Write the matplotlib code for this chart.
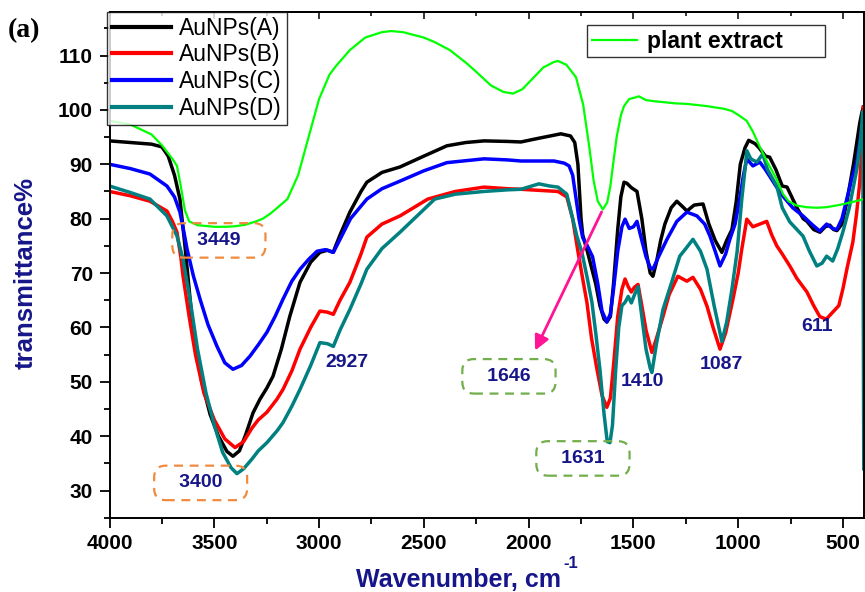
import matplotlib
matplotlib.use("Agg")
import matplotlib.pyplot as plt
from matplotlib.ticker import MultipleLocator

plt.rcParams['font.family'] = ['Liberation Sans', 'DejaVu Sans']

# ---- data ----
wn_a = [4000, 3900, 3800, 3750, 3720, 3690, 3664, 3640, 3620, 3600, 3560, 3520, 3480, 3440, 3411,
        3380, 3350, 3315, 3282, 3250, 3220, 3180, 3140, 3091, 3040, 2996, 2960, 2933, 2900, 2853,
        2800, 2772, 2700, 2614, 2500, 2390, 2300, 2213, 2100, 2037, 1950, 1846, 1800, 1780, 1765,
        1750, 1742, 1720, 1700, 1680, 1660, 1640, 1627, 1610, 1595, 1575, 1560, 1545, 1531, 1510,
        1483, 1460, 1440, 1420, 1407, 1390, 1370, 1350, 1320, 1293, 1260, 1245, 1210, 1168, 1140,
        1110, 1078, 1055, 1030, 1010, 990, 968, 950, 920, 900, 870, 850, 820, 790, 767, 720, 690,
        672, 640, 610, 585, 563, 545, 529, 505, 482, 450, 420, 410, 403]
tr_a = [94.3, 94.0, 93.7, 93.2, 91.5, 88, 83.6, 75, 67, 59, 50, 44, 40, 37.2, 36.3,
        37.3, 40.3, 44.3, 46.8, 48.8, 51, 56, 62, 68.3, 72, 73.8, 74.2, 73.8, 77, 81.2,
        85, 86.7, 88.5, 89.5, 91.5, 93.4, 94, 94.3, 94.2, 94.1, 94.8, 95.6, 95.2, 94, 90,
        80, 77, 74, 71, 68, 64, 61.5, 61, 62, 68, 78, 84, 86.7, 86.5, 85.7,
        85, 80, 74, 70, 69.4, 72, 76, 79, 82, 83.2, 82, 81.4, 82.5, 82.7, 79,
        76, 73.8, 76, 78, 83, 90, 93, 94.4, 93.8, 93, 91.5, 91.3, 89, 86, 85.8, 82, 80,
        79.5, 78, 77.5, 78.5, 78.8, 78, 77.8, 79, 83, 90, 97.6, 99.5, 100.5]

wn_b = [4000, 3900, 3807, 3726, 3700, 3678, 3660, 3649, 3620, 3590, 3550, 3500, 3450, 3401, 3360,
        3320, 3290, 3249, 3201, 3172, 3130, 3091, 3040, 2996, 2960, 2932, 2900, 2853, 2800, 2772,
        2700, 2614, 2481, 2350, 2213, 2100, 2037, 1950, 1860, 1818, 1790, 1765, 1742, 1722, 1700,
        1674, 1650, 1627, 1610, 1595, 1575, 1555, 1540, 1525, 1510, 1495, 1478, 1460, 1440, 1412,
        1390, 1359, 1330, 1288, 1245, 1216, 1180, 1149, 1120, 1087, 1060, 1025, 1000, 983, 959,
        930, 897, 864, 840, 816, 790, 754, 720, 672, 640, 611, 580, 549, 520, 501, 480, 453,
        435, 420, 410, 403]
tr_b = [85, 84.2, 83.2, 81.4, 79.5, 77.5, 73, 69.4, 62, 55, 48, 43, 39.5, 37.9, 39,
        41.5, 43, 44.4, 46.8, 48.6, 52, 56, 60, 63, 62.8, 62.4, 65, 68.3, 73.5, 76.6,
        79, 80.5, 83.6, 85, 85.8, 85.5, 85.4, 85.2, 85, 84, 80, 74, 68.9, 64.6, 58,
        52.3, 47.5, 45.3, 47, 53, 62, 67, 68.9, 67.5, 66.5, 67.4, 67.9, 64, 59.5, 55.4,
        58, 62, 66, 69.4, 68.5, 69.2, 67, 63.9, 60, 56, 59, 65.2, 70, 74.4, 79.9,
        78.5, 79, 79.5, 77, 75, 73.5, 71.3, 69, 66.5, 64, 62, 61.5, 62.8, 64, 67, 71, 75.7,
        81, 86.7, 93, 100.5]

wn_c = [4000, 3900, 3807, 3726, 3690, 3664, 3640, 3630, 3600, 3568, 3530, 3487, 3450, 3411, 3370,
        3330, 3290, 3249, 3210, 3172, 3130, 3091, 3050, 3010, 2970, 2932, 2900, 2850, 2772, 2700,
        2614, 2500, 2390, 2213, 2100, 2037, 1950, 1879, 1830, 1807, 1790, 1775, 1760, 1742, 1720,
        1695, 1670, 1650, 1627, 1610, 1595, 1575, 1555, 1540, 1520, 1500, 1483, 1460, 1440, 1420,
        1407, 1380, 1340, 1293, 1245, 1197, 1160, 1135, 1110, 1087, 1060, 1040, 1015, 993, 975,
        959, 930, 897, 870, 850, 820, 786, 740, 691, 650, 611, 578, 550, 529, 505, 482, 460,
        434, 420, 405]
tr_c = [90, 89.2, 88.2, 86, 84, 81.2, 76.5, 74.4, 69.5, 65.2, 60.5, 56.5, 53.5, 52.3, 53,
        54.7, 56.8, 59.1, 62, 65.2, 68.5, 70.7, 72.5, 74, 74.3, 73.8, 76.2, 80, 83.6, 85.5,
        86.9, 88.8, 90.3, 91, 90.8, 90.6, 90.6, 90.6, 90.2, 89.7, 88, 84, 80, 76.5, 75,
        73, 68, 63, 61, 62.5, 67, 74, 78.5, 79.9, 78.2, 78.5, 79.5, 76, 73, 71,
        70.7, 73, 76.2, 79.5, 81.2, 80.5, 79, 76.8, 74, 71.3, 73.5, 76.2, 79, 83.6, 88,
        91, 89.7, 90.4, 89, 87.8, 86, 84.1, 82, 80.5, 79, 77.7, 79, 78.2, 78, 80, 83.6, 87,
        90.4, 94, 98]

wn_d = [4000, 3900, 3807, 3726, 3678, 3649, 3616, 3580, 3540, 3500, 3460, 3420, 3392, 3360, 3320,
        3290, 3249, 3200, 3172, 3130, 3091, 3040, 2996, 2960, 2932, 2900, 2853, 2800, 2772, 2700,
        2614, 2448, 2350, 2213, 2100, 2037, 1951, 1900, 1860, 1818, 1790, 1770, 1746, 1720, 1698,
        1680, 1660, 1640, 1625, 1612, 1600, 1585, 1570, 1555, 1540, 1525, 1510, 1495, 1478, 1460,
        1440, 1420, 1412, 1390, 1359, 1320, 1279, 1250, 1216, 1180, 1149, 1115, 1078, 1055, 1030,
        1005, 983, 965, 959, 940, 911, 883, 860, 816, 790, 754, 720, 691, 660, 625, 600, 578,
        549, 525, 501, 470, 434, 415, 406, 401]
tr_d = [86, 84.8, 83.6, 80.5, 76.8, 72.5, 65.2, 56, 48, 42, 37, 34.2, 33.1, 34, 35.8,
        37.3, 38.8, 41, 42.5, 45.5, 48.6, 53, 57.2, 57, 56.5, 59.5, 63.3, 68, 70.7, 74.5,
        77.5, 83.6, 84.5, 85, 85.3, 85.4, 86.4, 86, 85.8, 84.5, 80, 76.8, 73.8, 69, 64.6,
        59, 52.3, 44, 39, 38.8, 42, 52, 60, 64, 64.6, 65.7, 64.5, 66, 67.5, 62,
        56, 52.5, 51.7, 57, 63.3, 68, 73.1, 74.5, 76.2, 74, 70.7, 64, 57.4, 61, 67,
        74, 83.6, 90, 92.5, 91, 90.4, 91.9, 89, 86, 82, 79.4, 78, 76.8, 74, 71.3, 71.8, 73.1,
        72.2, 74.5, 77.5, 82, 89.1, 95, 99.6, 34]

wn_plant = [4000, 3900, 3800, 3750, 3700, 3678, 3660, 3640, 3620, 3580, 3500, 3449, 3400, 3350, 3300,
            3268, 3230, 3190, 3151, 3100, 3050, 3000, 2950, 2921, 2853, 2780, 2700, 2657, 2600, 2500,
            2450, 2376, 2300, 2250, 2180, 2120, 2075, 2030, 1980, 1930, 1880, 1860, 1820, 1774, 1740,
            1710, 1690, 1670, 1646, 1625, 1610, 1598, 1580, 1560, 1545, 1520, 1490, 1474, 1440, 1402,
            1350, 1300, 1244, 1150, 1068, 1030, 997, 960, 930, 897, 860, 820, 786, 760, 720, 672,
            625, 580, 520, 460, 400]
tr_plant = [98, 97.3, 95.5, 93.5, 91, 89.7, 86, 81.5, 79.5, 78.8, 78.5, 78.5, 78.6, 78.9, 79.5,
            80, 81, 82.3, 83.6, 88, 95, 102, 106.5, 108, 111, 113.3, 114.3, 114.5, 114.3, 113.3,
            112.5, 111, 108.7, 107, 104.5, 103.3, 103, 103.8, 105.8, 107.8, 108.8, 109, 108.3, 106, 101,
            93, 87, 83.2, 81.7, 83, 86, 89.7, 95, 99, 100.7, 102, 102.3, 102.5, 101.8, 101.6,
            101.4, 101.2, 101.1, 100.7, 100.2, 99.8, 99, 98, 96, 93.2, 90.3, 87.5, 84.5, 83.2, 82.4, 82.1,
            82, 82.1, 82.5, 83, 83.6]

# peak labels: (text, wavenumber, transmittance, box colour or None)
peak_labels = [
    ('3449', 3478, 76.0, '#F08A3E'),
    ('3400', 3565, 31.4, '#F08A3E'),
    ('1646', 2094, 51.0, '#72AE4A'),
    ('1631', 1741, 35.9, '#72AE4A'),
    ('2927', 2867, 53.6, None),
    ('1410', 1458, 50.0, None),
    ('1087', 1078, 53.2, None),
    ('611', 625, 60.2, None),
]

navy = '#16168A'

fig = plt.figure(figsize=(8.65, 5.92), dpi=100)
ax = fig.add_axes([0.1266, 0.1255, 0.8722, 0.8542])

la, = ax.plot(wn_a, tr_a, color='black', lw=2.5, label='AuNPs(A)')
lb, = ax.plot(wn_b, tr_b, color='#FF0000', lw=2.5, label='AuNPs(B)')
lc, = ax.plot(wn_c, tr_c, color='#0000FF', lw=2.5, label='AuNPs(C)')
ld, = ax.plot(wn_d, tr_d, color='#008080', lw=2.5, label='AuNPs(D)')
lp, = ax.plot(wn_plant, tr_plant, color='#00FF00', lw=1.6, label='plant extract' + ' ' * 6)

ax.set_xlim(4000, 400)
ax.set_ylim(25, 118)
ax.xaxis.set_major_locator(MultipleLocator(500))
ax.xaxis.set_minor_locator(MultipleLocator(250))
ax.yaxis.set_major_locator(MultipleLocator(10))
ax.yaxis.set_minor_locator(MultipleLocator(5))
ax.set_yticks(range(30, 111, 10))
ax.tick_params(which='major', direction='out', length=7, width=1.3, labelsize=15, pad=5)
ax.tick_params(which='minor', direction='out', length=4, width=1.3)
for lab in ax.get_xticklabels() + ax.get_yticklabels():
    lab.set_fontweight('bold')
for sp in ax.spines.values():
    sp.set_linewidth(1.4)

# small inward ticks along the top frame
top = ax.secondary_xaxis('top')
top.xaxis.set_major_locator(MultipleLocator(500))
top.xaxis.set_minor_locator(MultipleLocator(250))
top.tick_params(which='major', direction='in', length=5, width=1.1, labeltop=False)
top.tick_params(which='minor', direction='in', length=3, width=1.1)
top.spines['top'].set_linewidth(1.4)

# arrow from plant extract dip to the 1646 box
ax.annotate('', xy=(1975, 55.3), xytext=(1646, 81.7),
            arrowprops=dict(arrowstyle='-|>', color='#FF1493', lw=2, mutation_scale=22))

for txt, x, y, col in peak_labels:
    if col is None:
        ax.text(x, y, txt, color=navy, fontsize=14, fontweight='bold', ha='center', va='center')
    else:
        ax.text(x, y, '   ' + txt + '   ', color=navy, fontsize=14, fontweight='bold',
                ha='center', va='center',
                bbox=dict(boxstyle='round,pad=0.45,rounding_size=0.6', fc='none', ec=col,
                          ls=(0, (4, 3)), lw=1.6))

leg1 = ax.legend(handles=[la, lb, lc, ld], loc='upper left', bbox_to_anchor=(-0.003, 1.0),
                 fontsize=16.5, frameon=True, fancybox=False, edgecolor='black',
                 handlelength=2.6, handletextpad=0.35, labelspacing=0.17, borderpad=0.2,
                 borderaxespad=0)
leg1.get_frame().set_linewidth(1.0)
for h in leg1.get_lines():
    h.set_linewidth(3)
ax.add_artist(leg1)

leg2 = ax.legend(handles=[lp], loc='upper left', bbox_to_anchor=(0.633, 0.974),
                 prop={'size': 16.5, 'weight': 'bold'}, frameon=True, fancybox=False,
                 edgecolor='black', handlelength=2.0, handletextpad=0.4, borderpad=0.2,
                 borderaxespad=0)
leg2.get_frame().set_linewidth(1.0)

fig.text(0.530, 0.0084, 'Wavenumber, cm', color=navy, fontsize=18,
         fontweight='bold', ha='center', va='baseline')
fig.text(0.651, 0.040, '-1', color=navy, fontsize=12, fontweight='bold',
         ha='left', va='baseline')
fig.text(0.030, 0.539, 'transmittance%', color=navy, fontsize=18.5, fontweight='bold',
         rotation=90, ha='center', va='center')
fig.text(0.009, 0.948, '(a)', fontsize=20, fontweight='bold', family='Liberation Serif',
         ha='left', va='center')

fig.savefig('out.png', dpi=100)
